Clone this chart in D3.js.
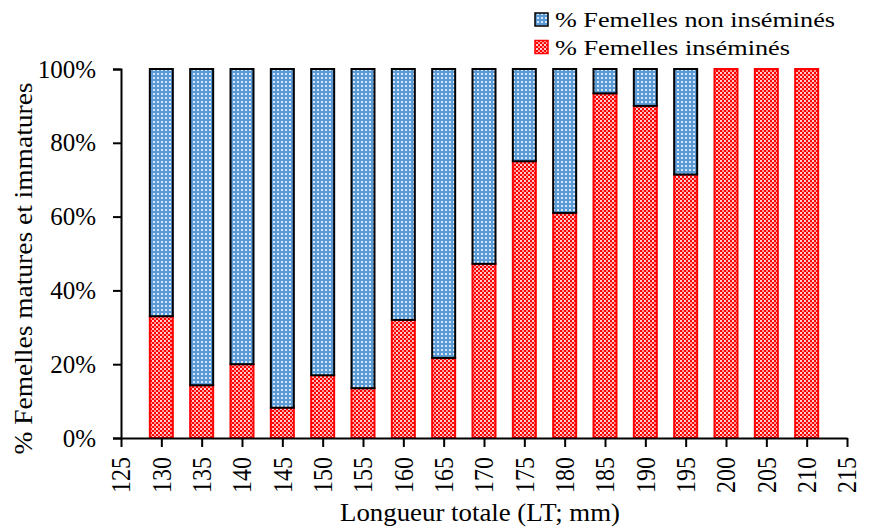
<!DOCTYPE html>
<html>
<head>
<meta charset="utf-8">
<script src="https://cdn.jsdelivr.net/npm/d3@7"></script>
<style>
  body { margin: 0; background: #fff; }
  svg { display: block; }
</style>
</head>
<body>
<script>
// Length classes (mm) and percentage of inseminated females per class
const lengths = [130, 135, 140, 145, 150, 155, 160, 165, 170, 175, 180, 185, 190, 195, 200, 205, 210];
const inseminated = [33, 14.3, 20, 8.2, 17, 13.5, 32, 21.7, 47.2, 75, 61, 93.4, 90, 71.4, 100, 100, 100];
const nonInseminated = inseminated.map(v => 100 - v);
const xTicks = [125, 130, 135, 140, 145, 150, 155, 160, 165, 170, 175, 180, 185, 190, 195, 200, 205, 210, 215];
const yTicks = [0, 20, 40, 60, 80, 100];
const seriesNames = ["% Femelles non inséminés", "% Femelles inséminés"];

const W = 875, H = 529;
const margin = { left: 121, right: 28, top: 69, bottom: 91 };
const FONT = "Liberation Serif";

const svg = d3.select("body").append("svg").attr("width", W).attr("height", H);
const defs = svg.append("defs");

// Blue fill with small white dots
const pb = defs.append("pattern").attr("id", "patBlue").attr("patternUnits", "userSpaceOnUse")
  .attr("width", 4).attr("height", 4);
pb.append("rect").attr("width", 4).attr("height", 4).attr("fill", "#5b9bd5");
pb.append("rect").attr("x", 1).attr("y", 1).attr("width", 2).attr("height", 2).attr("fill", "#d6e6f6");

// Red fill with a fine checker of white
const pr = defs.append("pattern").attr("id", "patRed").attr("patternUnits", "userSpaceOnUse")
  .attr("width", 4).attr("height", 4);
pr.append("rect").attr("width", 4).attr("height", 4).attr("fill", "#ff0000");
pr.append("rect").attr("x", 0).attr("y", 0).attr("width", 2).attr("height", 2).attr("fill", "#ffd0d0");
pr.append("rect").attr("x", 2).attr("y", 2).attr("width", 2).attr("height", 2).attr("fill", "#ff9a9a");

const x = d3.scaleLinear().domain([125, 215]).range([margin.left, W - margin.right]);
const y = d3.scaleLinear().domain([0, 100]).range([H - margin.bottom, margin.top]);
const barW = 23;

const data = lengths.map((l, i) => ({ l, red: inseminated[i], blue: nonInseminated[i] }));

const g = svg.append("g");
// Inseminated (bottom)
g.selectAll("rect.red").data(data).join("rect").attr("class", "red")
  .attr("x", d => x(d.l) - barW / 2)
  .attr("width", barW)
  .attr("y", d => y(d.red))
  .attr("height", d => y(0) - y(d.red))
  .attr("fill", "url(#patRed)")
  .attr("stroke", "#ff0000").attr("stroke-width", 2);

// Non-inseminated (top)
g.selectAll("rect.blue").data(data.filter(d => d.blue > 0)).join("rect").attr("class", "blue")
  .attr("x", d => x(d.l) - barW / 2)
  .attr("width", barW)
  .attr("y", d => y(100))
  .attr("height", d => y(d.red) - y(100))
  .attr("fill", "url(#patBlue)")
  .attr("stroke", "#000").attr("stroke-width", 2);

// Y axis
const yAxis = svg.append("g").attr("transform", `translate(${margin.left},0)`)
  .call(d3.axisLeft(y).tickValues(yTicks).tickFormat(d => d + "%").tickSize(8).tickPadding(17));
yAxis.select(".domain").attr("stroke", "#000").attr("stroke-width", 2);
yAxis.selectAll(".tick line").attr("stroke", "#000").attr("stroke-width", 2);
yAxis.selectAll(".tick text").style("font-family", FONT).style("font-size", "25px").attr("fill", "#000");

// X axis
const xAxis = svg.append("g").attr("transform", `translate(0,${y(0)})`)
  .call(d3.axisBottom(x).tickValues(xTicks).tickFormat(d3.format("d")).tickSize(9).tickSizeOuter(0));
xAxis.select(".domain").attr("stroke", "#000").attr("stroke-width", 2);
xAxis.selectAll(".tick line").attr("stroke", "#000").attr("stroke-width", 2);
xAxis.selectAll(".tick text")
  .style("font-family", FONT).style("font-size", "24px").attr("fill", "#000")
  .attr("transform", "scale(1.12,1) rotate(-90)")
  .attr("text-anchor", "end").attr("dy", "0.33em")
  .attr("x", -19).attr("y", 0);

// Axis titles
svg.append("text").attr("x", 480).attr("y", 521)
  .style("font-family", FONT).style("font-size", "25px")
  .attr("text-anchor", "middle")
  .attr("textLength", 280).attr("lengthAdjust", "spacingAndGlyphs")
  .text("Longueur totale (LT; mm)");
svg.append("text").attr("transform", `translate(32,${(y(0) + y(100)) / 2 + 15}) rotate(-90)`)
  .style("font-family", FONT).style("font-size", "25px")
  .attr("text-anchor", "middle")
  .attr("textLength", 372).attr("lengthAdjust", "spacingAndGlyphs")
  .text("%  Femelles matures et immatures");

// Legend
const legend = svg.append("g");
const legFills = ["url(#patBlue)", "url(#patRed)"];
const legStroke = ["#000", "#ff0000"];
const legLen = [280, 235];
seriesNames.forEach((name, i) => {
  const base = 27 + i * 27.5;
  legend.append("rect").attr("x", 535).attr("y", base - 14).attr("width", 13).attr("height", 13)
    .attr("fill", legFills[i]).attr("stroke", legStroke[i]).attr("stroke-width", 1.5);
  legend.append("text").attr("x", 555).attr("y", base)
    .style("font-family", FONT).style("font-size", "22px")
    .attr("textLength", legLen[i]).attr("lengthAdjust", "spacingAndGlyphs")
    .text(name);
});
</script>
</body>
</html>
